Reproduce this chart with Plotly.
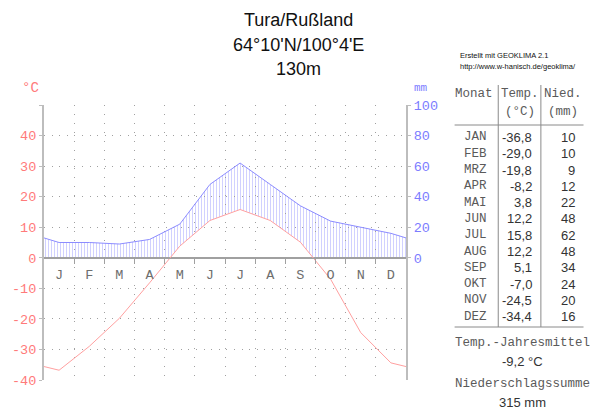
import plotly.graph_objects as go

# ---------------- data ----------------
month_letters = ["J", "F", "M", "A", "M", "J", "J", "A", "S", "O", "N", "D"]
month_abbr = ["JAN", "FEB", "MRZ", "APR", "MAI", "JUN", "JUL", "AUG", "SEP", "OKT", "NOV", "DEZ"]
temp_c = [-36.8, -29.0, -19.8, -8.2, 3.8, 12.2, 15.8, 12.2, 5.1, -7.0, -24.5, -34.4]
precip_mm = [10, 10, 9, 12, 22, 48, 62, 48, 34, 24, 20, 16]
temp_ticks = [-40, -30, -20, -10, 0, 10, 20, 30, 40, 50]
precip_ticks = [0, 20, 40, 60, 80, 100]
title_lines = ["Tura/Rußland", "64°10'N/100°4'E", "130m"]
credit_lines = ["Erstellt mit GEOKLIMA 2.1", "http://www.w-hanisch.de/geoklima/"]

MM_PER_DEG = 2  # diagram convention: 10 °C  <->  20 mm

# cyclic series (previous December / next January) - clipped by the axis range
x_cyc = [-0.5] + [i + 0.5 for i in range(12)] + [12.5]
temp_cyc = [temp_c[-1]] + temp_c + [temp_c[0]]
prec_cyc = [precip_mm[-1]] + precip_mm + [precip_mm[0]]

# ---------------- styling ----------------
W, H = 600, 418
L, R, T, B = 41, 194, 105, 38
PW, PH = W - L - R, H - T - B
MONO = "Liberation Mono"
SANS = "Liberation Sans"
GRID = "#a0a0a0"
AXIS = "#bdbdbd"
RED_TXT = "#ff7a7a"
RED_LINE = "#ffa0a0"
BLUE_TXT = "#7c7cff"
BLUE_LINE = "#8c8cff"
HATCH = "#a3a3ff"
TABLE_TXT = "#5a5a5a"
NUM_TXT = "#333333"


def px(x):
    return (x - L) / PW


def py(y):
    return (H - B - y) / PH


fig = go.Figure()

# hatch (humid period) on its own subplot whose bottom is the 0 line
fig.add_trace(go.Scatter(x=x_cyc, y=[t * MM_PER_DEG for t in temp_cyc], xaxis="x", yaxis="y",
                         mode="lines", line=dict(width=0), showlegend=False, hoverinfo="skip"))
fig.add_trace(go.Scatter(x=x_cyc, y=prec_cyc, xaxis="x", yaxis="y",
                         mode="lines", line=dict(width=0), fill="tonexty",
                         fillcolor="rgba(0,0,0,0)",
                         fillpattern=dict(shape="|", size=3, solidity=0.34,
                                          fgcolor=HATCH, bgcolor="rgba(0,0,0,0)"),
                         showlegend=False, hoverinfo="skip"))

# main curves
fig.add_trace(go.Scatter(x=x_cyc, y=temp_cyc, xaxis="x2", yaxis="y2", mode="lines",
                         line=dict(color=RED_LINE, width=1), showlegend=False))
fig.add_trace(go.Scatter(x=x_cyc, y=prec_cyc, xaxis="x2", yaxis="y3", mode="lines",
                         line=dict(color=BLUE_LINE, width=1), showlegend=False))

zero_frac = -temp_ticks[0] / (temp_ticks[-1] - temp_ticks[0])

annotations = []
for i, line in enumerate(title_lines):
    annotations.append(dict(text=line, x=px(298), y=py(20 + 24.5 * i), xref="paper", yref="paper",
                            showarrow=False, xanchor="center", yanchor="middle",
                            font=dict(family=SANS, size=18, color="#111111")))
for i, line in enumerate(credit_lines):
    annotations.append(dict(text=line, x=px(458), y=py(56 + 10.5 * i), xref="paper", yref="paper",
                            showarrow=False, xanchor="left", yanchor="middle",
                            font=dict(family=SANS, size=7.5, color="#111111")))
annotations.append(dict(text="°C", x=px(27), y=py(88), xref="paper", yref="paper", showarrow=False,
                        xanchor="center", yanchor="middle", font=dict(family=MONO, size=14, color=RED_TXT)))
annotations.append(dict(text="mm", x=px(421), y=py(88), xref="paper", yref="paper", showarrow=False,
                        xanchor="center", yanchor="middle", font=dict(family=MONO, size=11, color=BLUE_TXT)))

# table header
hdr = [("Monat", 474.5, 94), ("Temp.", 521, 94), ("(°C)", 521, 112), ("Nied.", 564, 94), ("(mm)", 564, 112)]
for txt, x, y in hdr:
    annotations.append(dict(text=txt, x=px(x), y=py(y), xref="paper", yref="paper", showarrow=False,
                            xanchor="center", yanchor="middle", font=dict(family=MONO, size=12.5, color=TABLE_TXT)))

row0, step = 137.4, 16.3
for i in range(12):
    y = row0 + step * i
    annotations.append(dict(text=month_abbr[i], x=px(476), y=py(y), xref="paper", yref="paper",
                            showarrow=False, xanchor="center", yanchor="middle",
                            font=dict(family=MONO, size=12.5, color=TABLE_TXT)))
    annotations.append(dict(text=f"{temp_c[i]:.1f}".replace(".", ","), x=px(535), y=py(y),
                            xref="paper", yref="paper", showarrow=False, xanchor="right",
                            yanchor="middle", font=dict(family=SANS, size=13, color=NUM_TXT)))
    annotations.append(dict(text=f"{precip_mm[i]}", x=px(578), y=py(y),
                            xref="paper", yref="paper", showarrow=False, xanchor="right",
                            yanchor="middle", font=dict(family=SANS, size=13, color=NUM_TXT)))

mean_t = sum(temp_c) / len(temp_c)
sum_p = sum(precip_mm)
foot = [("Temp.-Jahresmittel", 343, MONO, TABLE_TXT), (f"{mean_t:.1f} °C".replace(".", ","), 361, SANS, NUM_TXT),
        ("Niederschlagssumme", 384, MONO, TABLE_TXT), (f"{sum_p} mm", 402, SANS, NUM_TXT)]
for txt, y, fam, col in foot:
    annotations.append(dict(text=txt, x=px(523), y=py(y), xref="paper", yref="paper", showarrow=False,
                            xanchor="center", yanchor="middle", font=dict(family=fam, size=13 if fam == SANS else 12.5, color=col)))

shapes = []
for x in (499, 542):
    shapes.append(dict(type="line", xref="paper", yref="paper", x0=px(x), x1=px(x), y0=py(85), y1=py(327),
                       line=dict(color="#8a8a8a", width=1)))
for y in (125, 327):
    shapes.append(dict(type="line", xref="paper", yref="paper", x0=px(455), x1=px(585), y0=py(y), y1=py(y),
                       line=dict(color="#8a8a8a", width=1)))

fig.update_layout(
    width=W, height=H,
    margin=dict(l=L, r=R, t=T, b=B),
    paper_bgcolor="white", plot_bgcolor="rgba(0,0,0,0)",
    showlegend=False,
    # hatch subplot (hidden axes)
    xaxis=dict(domain=[0, 1], range=[0, 12], visible=False, anchor="y"),
    yaxis=dict(domain=[zero_frac, 1], range=[0, precip_ticks[-1]], visible=False, anchor="x"),
    # visible diagram axes
    xaxis2=dict(domain=[0, 1], range=[0, 12], anchor="free", position=zero_frac,
                showline=True, linecolor=GRID, linewidth=1,
                tickmode="array", tickvals=[i + 0.5 for i in range(12)], ticktext=month_letters,
                ticks="outside", ticklen=4, tickcolor="rgba(0,0,0,0)",
                tickfont=dict(family=MONO, size=13.5, color="#6e6e6e"),
                showgrid=False, zeroline=False,
                minor=dict(tickmode="array", tickvals=list(range(1, 12)), ticks="outside", ticklen=5,
                           tickcolor=GRID, showgrid=True, gridcolor=GRID, gridwidth=1, griddash="1px,8px")),
    yaxis2=dict(domain=[0, 1], range=[temp_ticks[0], temp_ticks[-1]], anchor="x2", side="left",
                showline=True, linecolor=AXIS, linewidth=2,
                tickmode="array", tickvals=temp_ticks,
                ticktext=[str(v) if v < temp_ticks[-1] else "" for v in temp_ticks],
                ticks="outside", ticklen=3, tickcolor=AXIS,
                tickfont=dict(family=MONO, size=13.5, color=RED_TXT),
                showgrid=True, gridcolor=GRID, gridwidth=1, griddash="1px,6.6px",
                zeroline=True, zerolinecolor=GRID, zerolinewidth=1),
    yaxis3=dict(range=[-MM_PER_DEG * -temp_ticks[0], precip_ticks[-1]], overlaying="y2", anchor="x2", side="right",
                showline=True, linecolor=AXIS, linewidth=2,
                tickmode="array", tickvals=precip_ticks,
                ticks="outside", ticklen=3, tickcolor=AXIS,
                tickfont=dict(family=MONO, size=13.5, color=BLUE_TXT),
                showgrid=False, zeroline=False),
    annotations=annotations,
    shapes=shapes,
)

fig.write_html("out.html", config={"displayModeBar": False},
               post_script="document.body.style.margin='0';document.body.style.padding='0';")
